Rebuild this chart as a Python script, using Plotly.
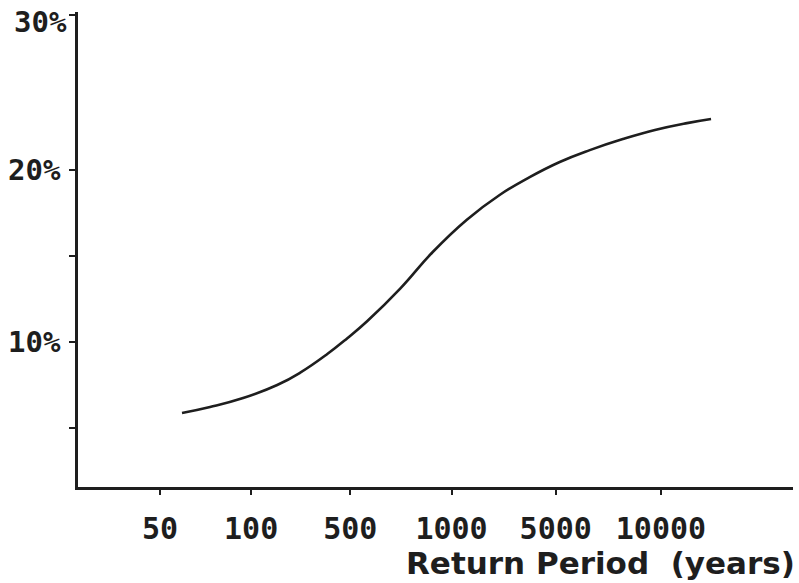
import plotly.graph_objects as go

# Return period axis: labels and their positions (axis units)
x_tick_labels = ["50", "100", "500", "1000", "5000", "10000"]
x_tick_pos = [0.0, 0.91, 1.90, 2.91, 3.95, 5.00]

# Curve (x in axis units, y in percent)
curve_x = [0.22, 0.50, 0.83, 1.17, 1.40, 1.67, 1.87, 2.07, 2.40, 2.72,
           3.06, 3.39, 3.69, 3.99, 4.29, 4.62, 4.94, 5.26, 5.50]
curve_y = [5.87, 6.22, 6.74, 7.50, 8.22, 9.30, 10.22, 11.22, 13.12, 15.22,
           17.10, 18.55, 19.59, 20.47, 21.16, 21.80, 22.33, 22.73, 22.97]

y_tick_vals = [5, 10, 15, 20, 29.0]
y_tick_text = ["", "10%", "", "20%", ""]
top_label = "30%"

ink = "#1e1e1e"

fig = go.Figure()
fig.add_trace(go.Scatter(
    x=curve_x, y=curve_y, mode="lines",
    line=dict(color=ink, width=2.6, shape="spline", smoothing=1.3),
    showlegend=False, hoverinfo="skip",
))

fig.update_layout(
    width=799, height=583,
    margin=dict(l=78, r=6, t=12, b=96, autoexpand=False),
    paper_bgcolor="white", plot_bgcolor="white",
    font=dict(family="DejaVu Sans Mono", color=ink),
)
fig.update_xaxes(
    range=[-0.818, 6.318], showgrid=False, zeroline=False, automargin=False,
    showline=True, linecolor=ink, linewidth=2.5,
    tickmode="array", tickvals=x_tick_pos, ticktext=x_tick_labels,
    ticks="outside", ticklen=5, tickwidth=2, tickcolor=ink,
    ticklabelstandoff=8,
    tickfont=dict(family="DejaVu Sans Mono", size=30, weight="bold", color=ink),
)
fig.update_yaxes(
    range=[1.57, 29.19], showgrid=False, zeroline=False, automargin=False,
    showline=True, linecolor=ink, linewidth=2.5,
    tickmode="array", tickvals=y_tick_vals, ticktext=y_tick_text,
    ticks="outside", ticklen=6, tickwidth=2, tickcolor=ink,
    ticklabelstandoff=3, ticklabeloverflow="allow",
    tickfont=dict(family="DejaVu Sans Mono", size=29, weight="bold", color=ink),
)
fig.add_annotation(
    text=top_label, xref="paper", yref="y",
    x=0, y=28.6, xshift=-9, xanchor="right", yanchor="middle", showarrow=False,
    font=dict(family="DejaVu Sans Mono", size=29, weight="bold", color=ink),
)
fig.add_annotation(
    text="Return Period  (years)", xref="paper", yref="paper",
    x=1.005, y=-0.16, xanchor="right", yanchor="middle", showarrow=False,
    font=dict(family="DejaVu Sans", size=31, weight="bold", color=ink),
)
fig.write_html(
    "out.html",
    config={"displayModeBar": False},
    post_script="document.body.style.margin='0';document.body.style.padding='0';",
)
